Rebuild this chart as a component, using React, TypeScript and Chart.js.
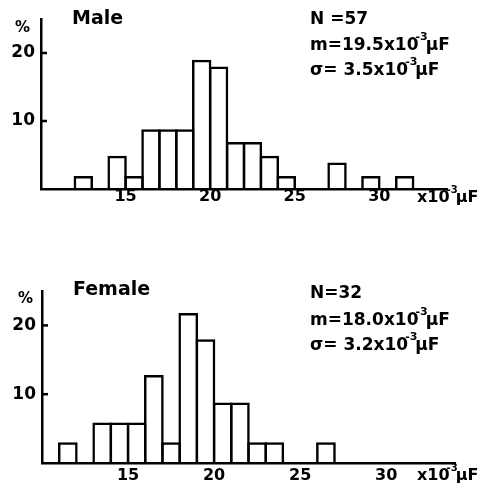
import React, { useEffect, useRef } from "react";
import { Chart, registerables } from "chart.js";
Chart.register(...registerables);

// ---- data ----
const xTickValues = [15, 20, 25, 30];
const yTickValues = [10, 20];

const maleBins = [12, 13, 14, 15, 16, 17, 18, 19, 20, 21, 22, 23, 24, 25, 26, 27, 28, 29, 30, 31];
const maleValues = [1.9, 0, 4.9, 1.9, 8.8, 8.8, 8.8, 19.0, 18.0, 6.9, 6.9, 4.9, 1.9, 0, 0, 3.9, 0, 1.9, 0, 1.9];

const femaleBins = [11, 12, 13, 14, 15, 16, 17, 18, 19, 20, 21, 22, 23, 24, 25, 26];
const femaleValues = [3.0, 0, 5.9, 5.9, 5.9, 12.8, 3.0, 21.8, 18.0, 8.8, 8.8, 3.0, 3.0, 0, 0, 3.0];

const maleTitle = "Male";
const femaleTitle = "Female";
const maleN = "N =57";
const maleMean = "m=19.5x10";
const maleSigma = "σ= 3.5x10";
const femaleN = "N=32";
const femaleMean = "m=18.0x10";
const femaleSigma = "σ= 3.2x10";
const unitPow = "-3";
const unitText = "μF";
const axisUnitBase = "x10";
const yUnit = "%";

const FONT = '"DejaVu Sans", "Liberation Sans", sans-serif';

type Part = { t: string; sup?: boolean };

function drawRich(ctx: CanvasRenderingContext2D, parts: Part[], x: number, y: number, size: number, weight: string) {
  let cx = x;
  ctx.textAlign = "left";
  ctx.textBaseline = "middle";
  for (const p of parts) {
    if (p.sup) {
      ctx.font = `bold ${Math.round(size * 0.62)}px ${FONT}`;
      ctx.fillText(p.t, cx - 3, y - size * 0.5);
      cx += ctx.measureText(p.t).width - 5;
    } else {
      ctx.font = `${weight} ${size}px ${FONT}`;
      ctx.fillText(p.t, cx, y);
      cx += ctx.measureText(p.t).width;
    }
  }
}

const annotPlugin = {
  id: "annot",
  afterDraw(chart: any, _args: any, opts: any) {
    const ctx: CanvasRenderingContext2D = chart.ctx;
    const { left } = chart.chartArea;
    const ys = chart.scales.y;
    ctx.save();
    ctx.strokeStyle = "#000";
    ctx.lineWidth = 2.5;
    for (const v of yTickValues) {
      const py = ys.getPixelForValue(v);
      ctx.beginPath();
      ctx.moveTo(left, py);
      ctx.lineTo(left + 6, py);
      ctx.stroke();
    }
    ctx.fillStyle = "#000";
    ctx.textAlign = "left";
    ctx.textBaseline = "middle";
    ctx.font = `bold 19px ${FONT}`;
    ctx.fillText(opts.title, opts.titleX, opts.titleY);
    ctx.font = `bold 15px ${FONT}`;
    ctx.fillText(yUnit, opts.pctX, opts.pctY);
    drawRich(ctx, [{ t: opts.n }], opts.statX, opts.statY[0], 17, "bold");
    drawRich(ctx, [{ t: opts.mean }, { t: unitPow, sup: true }, { t: unitText }], opts.statX, opts.statY[1], 17, "bold");
    drawRich(ctx, [{ t: opts.sigma }, { t: unitPow, sup: true }, { t: unitText }], opts.statX, opts.statY[2], 17, "bold");
    drawRich(ctx, [{ t: axisUnitBase }, { t: unitPow, sup: true }, { t: unitText }], opts.unitX, opts.unitY, 16, "bold");
    ctx.restore();
  },
};

function makeConfig(bins: number[], values: number[], geom: any, annot: any): any {
  return {
    type: "bar",
    data: {
      datasets: [
        {
          data: bins.map((b, i) => ({ x: b + 0.5, y: values[i] > 0 ? values[i] : null })),
          backgroundColor: "rgba(0,0,0,0)",
          borderColor: "#000",
          borderWidth: 2.5,
          borderSkipped: "bottom",
          barPercentage: 1 + 2.5 / 17,
          categoryPercentage: 1,
          inflateAmount: 0,
        },
      ],
    },
    options: {
      responsive: false,
      animation: false,
      events: [],
      layout: { padding: geom.padding },
      plugins: { legend: { display: false }, tooltip: { enabled: false }, annot },
      scales: {
        x: {
          type: "linear",
          min: 10,
          max: 34,
          offset: false,
          grid: { display: false, drawTicks: false },
          border: { display: true, color: "#000", width: 2.5 },
          ticks: { color: "#000", font: { family: FONT, size: 16, weight: "bold" }, padding: geom.xPad, maxRotation: 0 },
          afterBuildTicks: (s: any) => {
            s.ticks = xTickValues.map((v) => ({ value: v }));
          },
          afterFit: (s: any) => {
            s.height = 20;
          },
        },
        y: {
          min: 0,
          max: 25,
          grid: { display: false, drawTicks: false },
          border: { display: true, color: "#000", width: 2.5 },
          ticks: { color: "#000", font: { family: FONT, size: 17, weight: "bold" }, padding: 6 },
          afterBuildTicks: (s: any) => {
            s.ticks = yTickValues.map((v) => ({ value: v }));
          },
          afterFit: (s: any) => {
            s.width = geom.yWidth;
          },
        },
      },
    },
    plugins: [annotPlugin],
  };
}

function Hist({ config, height }: { config: any; height: number }) {
  const ref = useRef<HTMLCanvasElement>(null);
  useEffect(() => {
    if (!ref.current) return;
    const chart = new Chart(ref.current, config);
    return () => chart.destroy();
  }, []);
  return <canvas ref={ref} width={487} height={height} style={{ display: "block", width: 487, height }} />;
}

export default function App() {
  const maleCfg = makeConfig(
    maleBins,
    maleValues,
    { padding: { left: 0, right: 40, top: 19, bottom: 34 }, yWidth: 41, xPad: -2 },
    {
      title: maleTitle, titleX: 72, titleY: 19,
      pctX: 15, pctY: 28,
      n: maleN, mean: maleMean, sigma: maleSigma,
      statX: 310, statY: [20, 46, 71],
      unitX: 417, unitY: 198,
    }
  );
  const femaleCfg = makeConfig(
    femaleBins,
    femaleValues,
    { padding: { left: 0, right: 32, top: 48, bottom: 4 }, yWidth: 42, xPad: 3 },
    {
      title: femaleTitle, titleX: 73, titleY: 47,
      pctX: 18, pctY: 56,
      n: femaleN, mean: femaleMean, sigma: femaleSigma,
      statX: 310, statY: [51, 78, 103],
      unitX: 417, unitY: 233,
    }
  );
  return (
    <div style={{ position: "fixed", left: 0, top: 0, width: 487, height: 487, background: "#fff" }}>
      <Hist config={maleCfg} height={243} />
      <Hist config={femaleCfg} height={244} />
    </div>
  );
}
